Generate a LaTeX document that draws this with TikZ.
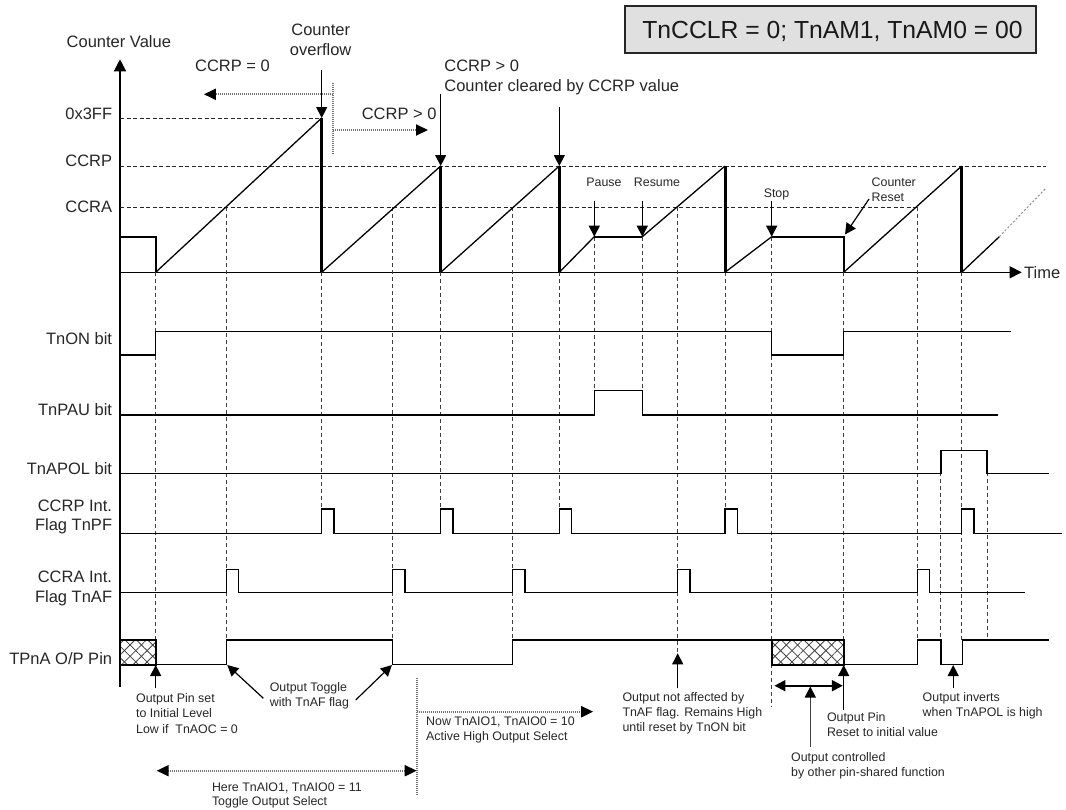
\documentclass[tikz,border=0pt]{standalone}
\usepackage{fontspec}
\setmainfont{Liberation Sans}
\usetikzlibrary{arrows.meta,patterns.meta}
\begin{document}
\begin{tikzpicture}[x=1pt,y=-1pt,
  lbl/.style={font=\fontsize{16.5}{19}\selectfont, inner sep=0pt, text=black!85},
  sm/.style={font=\fontsize{12.4}{15}\selectfont, inner sep=0pt, text=black!85},
  sig/.style={line width=1.5pt, line join=miter},
  ramp/.style={line width=1.3pt},
  thk/.style={line width=3pt},
  flat/.style={line width=2.2pt},
  gridline/.style={dash pattern=on 4pt off 3pt, line width=0.9pt, black!75},
  lvl/.style={dash pattern=on 4pt off 2.5pt, line width=0.9pt, black!85},
  dots/.style={dash pattern=on 1pt off 1pt, line width=2pt, black!55},
  tipped/.style={-{Triangle[length=11pt,width=11pt,black]}},
  dn/.style={line width=1.2pt, tipped},
  hatch/.style={line width=2pt},
  xa/.style={pattern={Lines[angle=45,distance=8pt,line width=0.8pt]}, pattern color=black!75},
  xb/.style={pattern={Lines[angle=-45,distance=8pt,line width=0.8pt]}, pattern color=black!75},
]
\useasboundingbox (0,0) rectangle (1066,809);

% ---------- mode box ----------
\node[draw=black!85, line width=2pt, fill=black!12, minimum width=411pt, minimum height=47.6pt, inner sep=0pt] (modebox) at (830.5,29.5) {};
\node[anchor=base, inner sep=0pt, font=\fontsize{24.7}{28}\selectfont, text=black!90] (modetext) at (832.5,38.3) {TnCCLR = 0; TnAM1, TnAM0 = 00};

% ---------- axes ----------
\coordinate (ybot) at (120,686.7);
\coordinate (ytop) at (120,59.3);
\coordinate (torg) at (120,272.3);
\coordinate (tend) at (1021.7,272.3);
\draw[line width=1.3pt, -{Triangle[length=12pt,width=12pt]}] (ybot) -- (ytop);
\draw[line width=1.3pt, -{Triangle[length=12pt,width=12pt]}] (torg) -- (tend);
\node[lbl, anchor=base west] (tlabel) at (1024,278) {Time};
\node[lbl, anchor=base west] (cvlabel) at (66.5,47.7) {Counter Value};

% level lines
\draw[lvl] (120,118) -- (321.7,118);
\draw[lvl] (120,166) -- (1046,166);
\draw[lvl] (120,207.3) -- (917.3,207.3);
\node[lbl, anchor=base east] (l3ff) at (112.3,119) {0x3FF};
\node[lbl, anchor=base east] (lccrp) at (112.3,166) {CCRP};
\node[lbl, anchor=base east] (lccra) at (112.3,212.5) {CCRA};

% ---------- dashed event lines ----------
\foreach \x/\a/\b in {155.7/272.3/640, 226.3/207.3/640, 321.7/272.3/509, 392.7/207.3/640,
  440.7/272.3/509, 512.7/207.3/640, 559.3/272.3/509, 594.3/236.7/390.7, 642.3/236.7/390.7,
  677.7/207.3/653, 725/272.3/509, 771.7/236.7/706.7, 843.7/272.3/640, 917.3/207.3/640,
  940.9/450.7/640, 961.7/272.3/640, 987.1/450.7/640}
  \draw[gridline] (\x,\a) -- (\x,\b);

% ---------- counter waveform ----------
\draw[flat] (120,236.7) -- (155.7,236.7) -- (155.7,272.3);
\draw[ramp] (155.7,272.3) -- (321.7,118);
\draw[thk] (321.7,118) -- (321.7,272.3);
\draw[ramp] (321.7,272.3) -- (440.7,166);
\draw[thk] (440.7,166) -- (440.7,272.3);
\draw[ramp] (440.7,272.3) -- (559.3,166);
\draw[thk] (559.3,166) -- (559.3,272.3);
\draw[ramp] (559.3,272.3) -- (594.3,236.7);
\draw[flat] (594.3,236.7) -- (642.3,236.7);
\draw[ramp] (642.3,236.7) -- (725,166);
\draw[thk] (725,166) -- (725,272.3);
\draw[ramp] (725,272.3) -- (771.7,236.7);
\draw[flat] (771.7,236.7) -- (843.7,236.7) -- (843.7,272.3);
\draw[ramp] (843.7,272.3) -- (961.7,166);
\draw[thk] (961.7,166) -- (961.7,272.3);
\draw[ramp] (961.7,272.3) -- (999.3,236.7);
\draw[black!45, dash pattern=on 2pt off 2pt, line width=1pt] (999.3,236.7) -- (1046,188);

% ---------- top annotations ----------
\node[lbl, anchor=base] (ovf1) at (320.7,35.7) {Counter};
\node[lbl, anchor=base] (ovf2) at (320.7,55) {overflow};
\coordinate (ovfs) at (321.7,70);
\coordinate (ovft) at (321.7,118);
\draw[dn] (ovfs) -- (ovft);

\coordinate (dvt) at (333.3,83.3);
\coordinate (dvb) at (333.3,154);
\draw[dots] (dvt) -- (dvb);
\coordinate (dls) at (333.3,94.3);
\coordinate (dlt) at (203.9,94.3);
\draw[dots, -{Triangle[length=12pt,width=11pt,black]}] (dls) -- (dlt);
\coordinate (drs) at (333.3,130);
\coordinate (drt) at (428,130);
\draw[dots, -{Triangle[length=12pt,width=11pt,black]}] (drs) -- (drt);
\node[lbl, anchor=base west] (ccrp0) at (194.9,71) {CCRP = 0};
\node[lbl, anchor=base west] (ccrpg) at (361.6,119) {CCRP > 0};
\node[lbl, anchor=base west] (ccrpg2) at (444.2,71) {CCRP > 0};
\node[lbl, anchor=base west] (clr) at (444.2,91.7) {Counter cleared by CCRP value};
\coordinate (c1s) at (440.7,94.3);
\coordinate (c1t) at (440.7,166);
\draw[dn] (c1s) -- (c1t);
\coordinate (c2s) at (559.3,106.7);
\coordinate (c2t) at (559.3,166);
\draw[dn] (c2s) -- (c2t);

\node[sm, anchor=base] (pause) at (604,186) {Pause};
\node[sm, anchor=base] (resume) at (657,186) {Resume};
\node[sm, anchor=base] (stop) at (776.5,197) {Stop};
\node[sm, anchor=base west] (cr1) at (871.5,186) {Counter};
\node[sm, anchor=base west] (cr2) at (871.5,201) {Reset};
\coordinate (pa) at (594.3,236.7);
\coordinate (re) at (642.3,236.7);
\coordinate (st) at (771.7,236.7);
\coordinate (rs) at (845,234.5);
\draw[dn] (594.3,200.7) -- (pa);
\draw[dn] (642.3,200.7) -- (re);
\draw[dn] (771.7,200.7) -- (st);
\draw[dn] (869,199) -- (rs);

% ---------- signal labels ----------
\node[lbl, anchor=base east] (ton) at (112.3,344) {TnON bit};
\node[lbl, anchor=base east] (tpau) at (112.3,415) {TnPAU bit};
\node[lbl, anchor=base east] (tapol) at (112.3,474) {TnAPOL bit};
\node[lbl, anchor=base east] (pf1) at (112.3,511) {CCRP Int.};
\node[lbl, anchor=base east] (pf2) at (112.3,530) {Flag TnPF};
\node[lbl, anchor=base east] (af1) at (112.3,582.5) {CCRA Int.};
\node[lbl, anchor=base east] (af2) at (112.3,602) {Flag TnAF};
\node[lbl, anchor=base east] (tpna) at (112.3,664) {TPnA O/P Pin};

% ---------- signals ----------
\draw[sig] (120,355) -- (155.7,355) -- (155.7,331.7) -- (771.7,331.7) -- (771.7,355)
  -- (843.7,355) -- (843.7,331.7) -- (1011.4,331.7);
\draw[sig] (120,415) -- (594.3,415) -- (594.3,390.7) -- (642.3,390.7) -- (642.3,415) -- (998.4,415);
\draw[sig] (120,473.3) -- (940.9,473.3) -- (940.9,450.7) -- (987.1,450.7) -- (987.1,473.3) -- (1048.6,473.3);
% CCRP flag
\draw[sig] (120,533.3)
  -- (321.7,533.3) -- (321.7,509) -- (334,509) -- (334,533.3)
  -- (440.7,533.3) -- (440.7,509) -- (453,509) -- (453,533.3)
  -- (559.3,533.3) -- (559.3,509) -- (571.6,509) -- (571.6,533.3)
  -- (725,533.3) -- (725,509) -- (737.3,509) -- (737.3,533.3)
  -- (961.7,533.3) -- (961.7,509) -- (974,509) -- (974,533.3)
  -- (1061.6,533.3);
% CCRA flag
\draw[sig] (120,592.3)
  -- (226.3,592.3) -- (226.3,569.3) -- (238.6,569.3) -- (238.6,592.3)
  -- (392.7,592.3) -- (392.7,569.3) -- (405,569.3) -- (405,592.3)
  -- (512.7,592.3) -- (512.7,569.3) -- (525,569.3) -- (525,592.3)
  -- (677.7,592.3) -- (677.7,569.3) -- (690,569.3) -- (690,592.3)
  -- (917.3,592.3) -- (917.3,569.3) -- (929.6,569.3) -- (929.6,592.3)
  -- (1024.7,592.3);
% TPnA output
\fill[xa] (120,640) rectangle (155.7,664.7);
\fill[xb] (120,640) rectangle (155.7,664.7);
\draw[hatch] (120,640) rectangle (155.7,664.7);
\fill[xa] (771.7,640) rectangle (843.7,664.7);
\fill[xb] (771.7,640) rectangle (843.7,664.7);
\draw[hatch] (771.7,640) rectangle (843.7,664.7);
\draw[sig] (155.7,664.7) -- (226.3,664.7) -- (226.3,640) -- (392.7,640) -- (392.7,664.7)
  -- (512.7,664.7) -- (512.7,640) -- (771.7,640);
\draw[sig] (843.7,664.7) -- (917.3,664.7) -- (917.3,640) -- (940.9,640) -- (940.9,664.7)
  -- (962.5,664.7) -- (962.5,640) -- (1048.6,640);

% ---------- bottom annotations ----------
\coordinate (a1s) at (155.7,688.3);
\coordinate (a1t) at (155.7,665);
\draw[dn] (a1s) -- (a1t);
\node[sm, anchor=base west] (ip1) at (136,702) {Output Pin set};
\node[sm, anchor=base west] (ip2) at (136,717.6) {to Initial Level};
\node[sm, anchor=base west] (ip3) at (136,733) {Low if\ \ TnAOC = 0};

\node[sm, anchor=base west] (tg1) at (269.6,691) {Output Toggle};
\node[sm, anchor=base west] (tg2) at (269.6,706.6) {with TnAF flag};
\coordinate (tgl) at (227.3,665);
\coordinate (tgr) at (391.9,665);
\draw[dn] (263.4,698.3) -- (tgl);
\draw[dn] (355.7,700) -- (tgr);

\coordinate (sepT) at (416.7,678.3);
\coordinate (sepB) at (416.7,795);
\draw[dots] (sepT) -- (sepB);
\coordinate (hl) at (156.7,770.7);
\coordinate (hr) at (416.7,770.7);
\draw[dots, {Triangle[length=12pt,width=11pt,black]}-{Triangle[length=12pt,width=11pt,black]}] (hl) -- (hr);
\node[sm, anchor=base west] (here1) at (211.8,791) {Here TnAIO1, TnAIO0 = 11};
\node[sm, anchor=base west] (here2) at (211.8,805.6) {Toggle Output Select};

\coordinate (nows) at (416.7,711.7);
\coordinate (nowt) at (593.2,711.7);
\draw[dots, -{Triangle[length=12pt,width=11pt,black]}] (nows) -- (nowt);
\node[sm, anchor=base west] (now1) at (426,725) {Now TnAIO1, TnAIO0 = 10};
\node[sm, anchor=base west] (now2) at (426,740) {Active High Output Select};

\coordinate (nas) at (677.7,688.3);
\coordinate (nat) at (677.7,653.3);
\draw[dn] (nas) -- (nat);
\node[sm, anchor=base west] (na1) at (622.3,701) {Output not affected by};
\node[sm, anchor=base west] (na2) at (622.3,716.3) {TnAF flag. Remains High};
\node[sm, anchor=base west] (na3) at (622.3,731.3) {until reset by TnON bit};

\coordinate (dbl) at (774.4,685.7);
\coordinate (dbr) at (842.8,685.7);
\draw[line width=2pt, {Triangle[length=11pt,width=11pt]}-{Triangle[length=11pt,width=11pt]}] (dbl) -- (dbr);
\coordinate (ocs) at (810.3,746.7);
\coordinate (oct) at (810.3,686.5);
\draw[dn, black!75] (ocs) -- (oct);
\node[sm, anchor=base west] (oc1) at (790.9,761) {Output controlled};
\node[sm, anchor=base west] (oc2) at (790.9,776) {by other pin-shared function};

\coordinate (ops) at (843.7,710);
\coordinate (opt) at (843.7,665);
\draw[dn] (ops) -- (opt);
\node[sm, anchor=base west] (op1) at (826.8,721.6) {Output Pin};
\node[sm, anchor=base west] (op2) at (826.8,736.6) {Reset to initial value};

\coordinate (oivs) at (953.2,688.3);
\coordinate (oivt) at (953.2,665);
\draw[dn] (oivs) -- (oivt);
\node[sm, anchor=base west] (oi1) at (922.5,701) {Output inverts};
\node[sm, anchor=base west] (oi2) at (922.5,716.3) {when TnAPOL is high};
\end{tikzpicture}
\end{document}
